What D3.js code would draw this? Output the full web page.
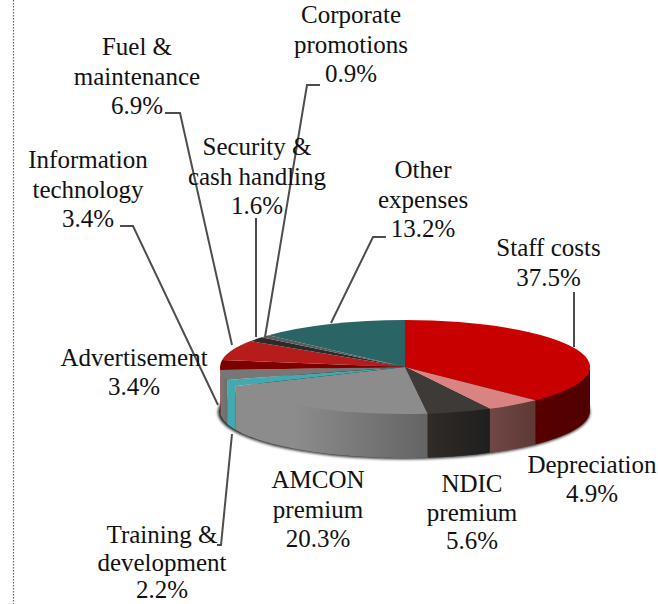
<!DOCTYPE html>
<html><head><meta charset="utf-8">
<script src="https://cdnjs.cloudflare.com/ajax/libs/d3/7.8.5/d3.min.js"></script>
<style>html,body{margin:0;padding:0;background:#fff}svg{display:block}</style>
</head><body><svg id="c" width="658" height="604"></svg>
<script>
const categories=["Staff costs","Depreciation","NDIC premium","AMCON premium","Training & development","Advertisement","Information technology","Fuel & maintenance","Security & cash handling","Corporate promotions","Other expenses"];
const values=[37.5,4.9,5.6,20.3,2.2,3.4,3.4,6.9,1.6,0.9,13.2];
const topColors=["#c80000","#d98383","#3e3a37","#8c8c8c","#44a9ae","#777777","#7c0000","#b71c1c","#2b2b2b","#5a5a5a","#2a6464"];
const sideStart=["#580000","#704744","#302b27","#8c8c8c","#44a9ae","#7a7a7a","#7c0000","#b71c1c","#2b2b2b","#5a5a5a","#2a6464"];
const sideEnd=["#500000","#5e3936","#1f1f1f","#646464","#44a9ae","#6c6c6c","#7c0000","#b71c1c","#2b2b2b","#5a5a5a","#2a6464"];
const labelLines=[["Staff costs","37.5%"],["Depreciation","4.9%"],["NDIC","premium","5.6%"],["AMCON","premium","20.3%"],["Training &","development","2.2%"],["Advertisement","3.4%"],["Information","technology","3.4%"],["Fuel &","maintenance","6.9%"],["Security &","cash handling","1.6%"],["Corporate","promotions","0.9%"],["Other","expenses","13.2%"]];
const labelAnchors=[[548.5,256],[592,473],[472,492],[318,488],[162,543],[134,366],[88,168],[137,55],[257,155],[351,23],[423,178]];
const labelLeading=[30,29,28.5,29.5,27.7,29,29.5,29.5,29.5,29.5,29.5];
const leaders=[[[574,347],[574,292]],[],[],[],[[232,434],[221,545],[217,545]],[],[[218,405],[133,226],[120,226]],[[232,345],[180,113],[165,113]],[[256,337],[256,218]],[[265,337],[307,85],[320,85]],[[331,323],[373,237],[386,237]]];

const cx=405,cy=367,rx=185,ry=47,depth=44,R=100;
const svg=d3.select("#c");
const defs=svg.append("defs");
defs.append("filter").attr("id","blur").attr("x","-10%").attr("y","-30%").attr("width","120%").attr("height","160%")
  .append("feGaussianBlur").attr("stdDeviation",1.4);
svg.append("line").attr("x1",13.5).attr("x2",13.5).attr("y1",0).attr("y2",604)
  .attr("stroke","#666").attr("stroke-width",1.2).attr("stroke-dasharray","1.5 1.5");

const arcs=d3.pie().sort(null).value(d=>d)(values);
const fx=a=>cx+rx*Math.sin(a), fy=a=>cy-ry*Math.cos(a);

svg.append("ellipse").attr("cx",cx-1).attr("cy",cy+depth+1).attr("rx",rx+1).attr("ry",ry)
  .attr("fill","#111").attr("filter","url(#blur)");

const lo=Math.PI/2,hi=3*Math.PI/2;
const line=d3.line();
arcs.forEach((d,i)=>{
  const a0=Math.max(d.startAngle,lo),a1=Math.min(d.endAngle,hi);
  if(a1<=a0) return;
  const n=Math.max(4,Math.ceil((a1-a0)*40));
  const angles=d3.range(n+1).map(k=>a0+(a1-a0)*k/n);
  const pts=angles.map(a=>[fx(a),fy(a)-1.5]).concat(angles.slice().reverse().map(a=>[fx(a),fy(a)+depth]));
  const id="g"+i;
  const xs=pts.map(p=>p[0]);
  const g=defs.append("linearGradient").attr("id",id).attr("gradientUnits","userSpaceOnUse")
    .attr("x1",d3.max(xs)).attr("x2",d3.min(xs)).attr("y1",0).attr("y2",0);
  g.append("stop").attr("offset",0).attr("stop-color",sideEnd[i]);
  g.append("stop").attr("offset",i===3?0.7:1).attr("stop-color",sideStart[i]);
  svg.append("path").attr("d",line(pts)+"Z").attr("fill",`url(#${id})`);
});

const arc=d3.arc().innerRadius(0).outerRadius(R);
svg.append("g").attr("transform",`translate(${cx},${cy}) scale(${rx/R},${ry/R})`)
  .selectAll("path").data(arcs).join("path").attr("d",arc).attr("fill",(d,i)=>topColors[i]);

svg.append("g").selectAll("path").data(leaders.filter(l=>l.length)).join("path")
  .attr("d",d=>line(d)).attr("fill","none").attr("stroke","#4d4d4d").attr("stroke-width",2);

const lab=svg.append("g").attr("font-family","'Liberation Serif','Times New Roman',serif").attr("font-size",25).attr("fill","#111").attr("text-anchor","middle");
labelLines.forEach((ls,i)=>{
  const t=lab.append("text").attr("x",labelAnchors[i][0]).attr("y",labelAnchors[i][1]);
  ls.forEach((s,k)=>t.append("tspan").attr("x",labelAnchors[i][0]).attr("dy",k?labelLeading[i]:0).text(s));
});
</script></body></html>
